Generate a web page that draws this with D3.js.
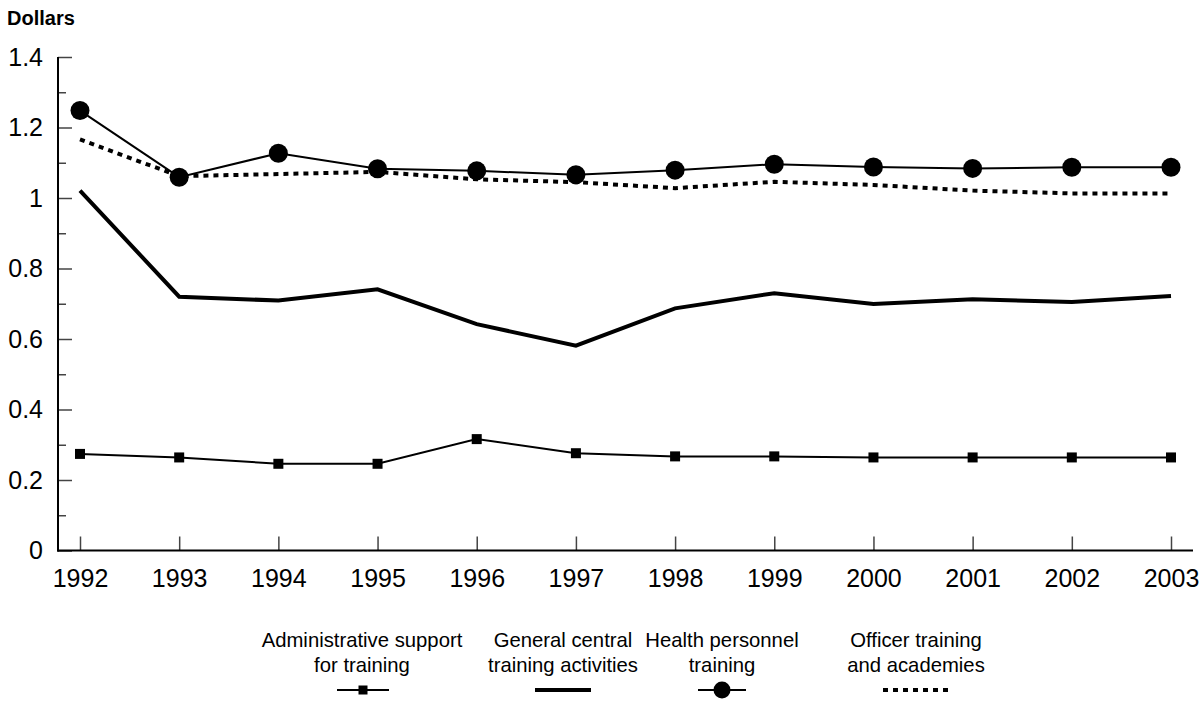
<!DOCTYPE html>
<html>
<head>
<meta charset="utf-8">
<script src="https://cdn.jsdelivr.net/npm/d3@7/dist/d3.min.js"></script>
<style>
  html, body { margin: 0; padding: 0; background: #fff; }
  svg { display: block; font-family: Arial, "Liberation Sans", sans-serif; }
</style>
</head>
<body>
<svg id="chart" width="1203" height="702"></svg>
<script>
const years = [1992,1993,1994,1995,1996,1997,1998,1999,2000,2001,2002,2003];
const adminSupport = [0.274,0.264,0.246,0.246,0.316,0.276,0.267,0.267,0.264,0.264,0.264,0.264];
const generalCentral = [1.021,0.720,0.709,0.741,0.642,0.581,0.687,0.730,0.699,0.713,0.705,0.722];
const healthPersonnel = [1.248,1.059,1.127,1.083,1.077,1.066,1.079,1.096,1.088,1.084,1.087,1.087];
const officerTraining = [1.166,1.062,1.068,1.074,1.053,1.045,1.028,1.046,1.037,1.021,1.013,1.013];
const yTicks = [0,0.1,0.2,0.3,0.4,0.5,0.6,0.7,0.8,0.9,1.0,1.1,1.2,1.3,1.4];
const seriesNames = [["Administrative support","for training"],["General central","training activities"],["Health personnel","training"],["Officer training","and academies"]];

const svg = d3.select("#chart");
const x = d3.scaleLinear().domain([1992,2003]).range([80,1171]);
const y = d3.scaleLinear().domain([0,1.4]).range([550.5,57]);
const axisLeftX = 58, axisRightX = 1193;

// Y axis
const isMajor = v => Math.abs(Math.round(v*10) % 2) === 0;
const yAxis = d3.axisLeft(y).tickValues(yTicks).tickSizeInner(-14).tickSizeOuter(0).tickPadding(15)
  .tickFormat(d => isMajor(d) ? String(+d.toFixed(1)) : "");
const gy = svg.append("g").attr("transform", `translate(${axisLeftX},0)`).call(yAxis);
gy.select(".domain").remove();
gy.selectAll(".tick line").attr("stroke","#444").attr("stroke-width",1.5)
  .attr("x2", d => isMajor(d) ? 14 : 8);
gy.selectAll(".tick text").attr("font-size", 25).attr("fill","#000");

// X axis
const xAxis = d3.axisBottom(x).tickValues(years).tickSizeInner(-14).tickSizeOuter(0).tickPadding(19).tickFormat(d3.format("d"));
const gx = svg.append("g").attr("transform", `translate(0,${y(0)})`).call(xAxis);
gx.select(".domain").remove();
gx.selectAll(".tick line").attr("stroke","#444").attr("stroke-width",1.5);
gx.selectAll(".tick text").attr("font-size", 25).attr("fill","#000");

// axis lines
svg.append("line").attr("x1",axisLeftX).attr("x2",axisLeftX).attr("y1",y(1.4)).attr("y2",y(0)+1)
  .attr("stroke","#000").attr("stroke-width",2);
svg.append("line").attr("x1",axisLeftX-1).attr("x2",axisRightX).attr("y1",y(0)).attr("y2",y(0))
  .attr("stroke","#000").attr("stroke-width",2);

svg.append("text").attr("x",7).attr("y",25).attr("font-size",20).attr("font-weight","bold").text("Dollars");

const line = d3.line().x((d,i)=>x(years[i])).y(d=>y(d));

// Officer training (dotted)
svg.append("path").datum(officerTraining).attr("d",line).attr("fill","none").attr("stroke","#000")
  .attr("stroke-width",4).attr("stroke-dasharray","5,5");
// General central (thick)
svg.append("path").datum(generalCentral).attr("d",line).attr("fill","none").attr("stroke","#000")
  .attr("stroke-width",4).attr("stroke-linejoin","miter");
// Health personnel
svg.append("path").datum(healthPersonnel).attr("d",line).attr("fill","none").attr("stroke","#000").attr("stroke-width",2);
svg.selectAll("circle.hp").data(healthPersonnel).enter().append("circle").attr("class","hp")
  .attr("cx",(d,i)=>x(years[i])).attr("cy",d=>y(d)).attr("r",9.5).attr("fill","#000");
// Admin support
svg.append("path").datum(adminSupport).attr("d",line).attr("fill","none").attr("stroke","#000").attr("stroke-width",2);
svg.selectAll("rect.as").data(adminSupport).enter().append("rect").attr("class","as")
  .attr("x",(d,i)=>x(years[i])-5).attr("y",d=>y(d)-5).attr("width",10).attr("height",10).attr("fill","#000");

// Legend
const legendCenters = [362, 563, 722, 916];
const lg = svg.append("g");
seriesNames.forEach((nm,i)=>{
  const cx = legendCenters[i];
  const t = lg.append("text").attr("text-anchor","middle").attr("font-size",20.3).attr("fill","#000");
  t.append("tspan").attr("x",cx).attr("y",647).text(nm[0]);
  t.append("tspan").attr("x",cx).attr("y",672).text(nm[1]);
});
const ly = 690;
// admin symbol
lg.append("line").attr("x1",legendCenters[0]-25).attr("x2",legendCenters[0]+27).attr("y1",ly).attr("y2",ly).attr("stroke","#000").attr("stroke-width",2);
lg.append("rect").attr("x",legendCenters[0]+1-4.5).attr("y",ly-4.5).attr("width",9).attr("height",9).attr("fill","#000");
// general
lg.append("line").attr("x1",legendCenters[1]-28).attr("x2",legendCenters[1]+28).attr("y1",ly).attr("y2",ly).attr("stroke","#000").attr("stroke-width",4);
// health
lg.append("line").attr("x1",legendCenters[2]-24).attr("x2",legendCenters[2]+24).attr("y1",ly).attr("y2",ly).attr("stroke","#000").attr("stroke-width",2);
lg.append("circle").attr("cx",legendCenters[2]).attr("cy",ly).attr("r",8.5).attr("fill","#000");
// officer
lg.append("line").attr("x1",legendCenters[3]-33).attr("x2",legendCenters[3]+32).attr("y1",ly).attr("y2",ly).attr("stroke","#000").attr("stroke-width",4).attr("stroke-dasharray","5,5");
</script>
</body>
</html>
